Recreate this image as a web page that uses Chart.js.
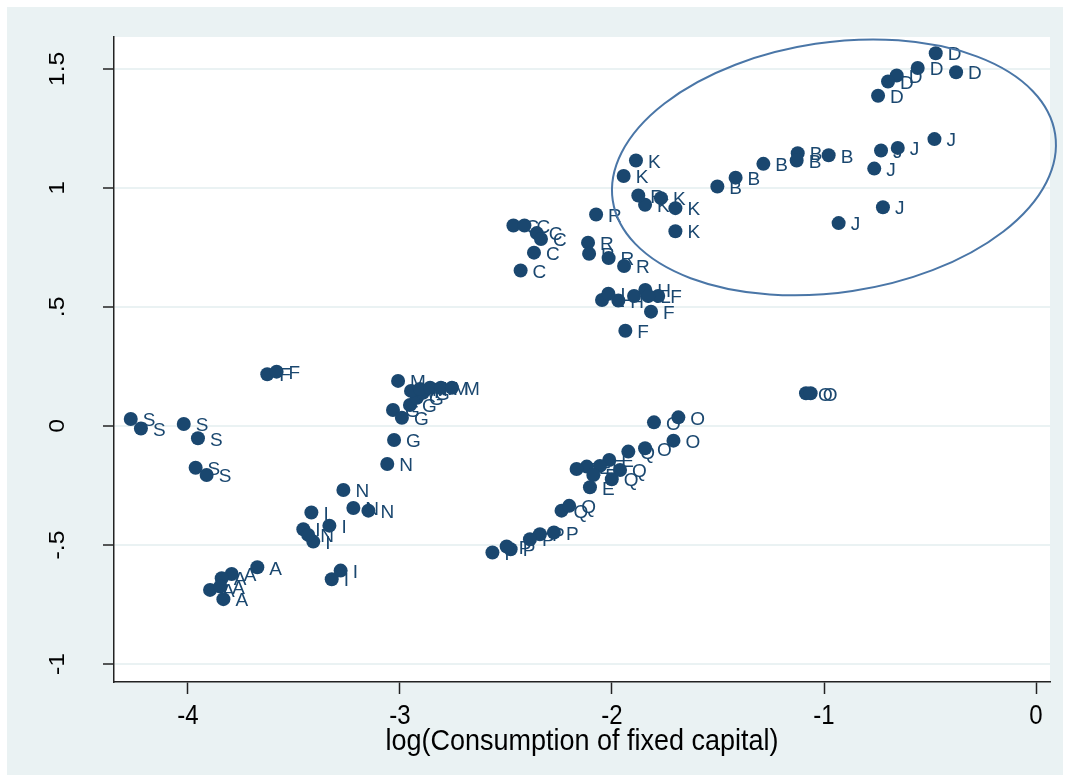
<!DOCTYPE html>
<html>
<head>
<meta charset="utf-8">
<script src="https://cdn.jsdelivr.net/npm/chart.js@4.4.0/dist/chart.umd.min.js"></script>
<style>
  html, body { margin: 0; padding: 0; background: #fff; }
  #wrap { width: 1070px; height: 782px; }
</style>
</head>
<body>
<div id="wrap"><canvas id="scatter" width="1070" height="782"></canvas></div>
<script>
const pointLabels = [
  'A','A','A','A','A','A',
  'B','B','B','B','B','B',
  'C','C','C','C','C','C',
  'D','D','D','D','D','D',
  'E','E','E','E','E','E',
  'F','F','F','F','F',
  'G','G','G','G','G','G',
  'H','H','H',
  'I','I','I','I','I','I',
  'J','J','J','J','J','J',
  'K','K','K','K','K','K',
  'L','L','L',
  'M','M','M','M','M','M',
  'N','N','N','N','N',
  'O','O','O','O','O','O',
  'P','P','P','P','P','P',
  'Q','Q','Q','Q','Q',
  'R','R','R','R','R','R',
  'S','S','S','S','S','S'
];
const xVals = [
  -3.673, -3.794, -3.841, -3.896, -3.833, -3.848,
  -0.978, -1.124, -1.129, -1.286, -1.417, -1.503,
  -2.465, -2.413, -2.355, -2.335, -2.368, -2.431,
  -0.473, -0.377, -0.558, -0.657, -0.698, -0.745,
  -2.013, -2.057, -2.119, -2.167, -2.088, -2.104,
  -3.626, -3.582, -1.782, -1.816, -1.937,
  -3.028, -3.033, -2.991, -2.953, -2.920, -2.892,
  -1.970, -1.896, -1.843,
  -3.418, -3.333, -3.409, -3.280, -3.322, -3.456,
  -0.479, -0.652, -0.731, -0.763, -0.722, -0.931,
  -1.887, -1.945, -1.844, -1.769, -1.701, -1.701,
  -2.047, -2.017, -1.829,
  -3.009, -2.948, -2.906, -2.858, -2.807, -2.755,
  -3.060, -3.267, -3.220, -3.149, -3.433,
  -1.802, -1.687, -1.710, -1.844, -1.085, -1.063,
  -2.274, -2.340, -2.387, -2.478, -2.497, -2.564,
  -1.923, -1.962, -2.001, -2.238, -2.202,
  -1.876, -2.075, -2.113, -2.108, -2.016, -1.943,
  -4.270, -4.222, -4.020, -3.953, -3.964, -3.912
];
const yVals = [
  -0.594, -0.622, -0.640, -0.689, -0.728, -0.675,
  1.137, 1.146, 1.115, 1.101, 1.043, 1.006,
  0.842, 0.842, 0.810, 0.785, 0.728, 0.653,
  1.566, 1.486, 1.504, 1.472, 1.447, 1.387,
  -0.143, -0.168, -0.171, -0.181, -0.206, -0.258,
  0.217, 0.228, 0.546, 0.480, 0.400,
  -0.059, 0.067, 0.034, 0.088, 0.118, 0.139,
  0.527, 0.546, 0.571,
  -0.364, -0.419, -0.486, -0.608, -0.644, -0.434,
  1.205, 1.168, 1.157, 1.081, 0.919, 0.852,
  1.115, 1.050, 0.929, 0.957, 0.915, 0.818,
  0.529, 0.555, 0.546,
  0.189, 0.147, 0.155, 0.160, 0.160, 0.160,
  -0.160, -0.269, -0.345, -0.356, -0.458,
  0.015, 0.036, -0.062, -0.094, 0.137, 0.137,
  -0.448, -0.455, -0.476, -0.518, -0.507, -0.532,
  -0.108, -0.185, -0.224, -0.356, -0.336,
  0.968, 0.888, 0.770, 0.723, 0.705, 0.672,
  0.029, -0.011, 0.008, -0.052, -0.176, -0.206
];
const xTicks = [-4, -3, -2, -1, 0];
const xTickLabels = ['-4', '-3', '-2', '-1', '0'];
const yTicks = [-1, -0.5, 0, 0.5, 1, 1.5];
const yTickLabels = ['-1', '-.5', '0', '.5', '1', '1.5'];
const xTitle = 'log(Consumption of fixed capital)';
// highlighted group: centre and half-axes in data units, tilt in degrees
const ellipseCentre = [-0.953, 1.086];
const ellipseRadii = [1.055, 0.525];
const ellipseTilt = 8.5;

const colors = {
  navy: '#1a476f',
  outline: '#4a76a7',
  region: '#eaf2f3',
  grid: '#eaf2f3',
  axis: '#222222',
  text: '#000000'
};
const FONT = '"Liberation Sans", Arial, sans-serif';

// draws text squeezed/stretched the way the reference renders its axis text
function stretchedText(ctx, text, x, y, sx, sy, angle) {
  ctx.save();
  ctx.translate(x, y);
  if (angle) ctx.rotate(angle);
  ctx.scale(sx, sy);
  ctx.fillText(text, 0, 0);
  ctx.restore();
}

const backgroundPlugin = {
  id: 'background',
  beforeDraw(chart) {
    const { ctx, chartArea } = chart;
    ctx.save();
    ctx.fillStyle = '#ffffff';
    ctx.fillRect(0, 0, chart.width, chart.height);
    ctx.fillStyle = colors.region;
    ctx.fillRect(7, 7, chart.width - 14, chart.height - 14);
    ctx.fillStyle = '#ffffff';
    ctx.fillRect(chartArea.left, chartArea.top,
      chartArea.right - chartArea.left, chartArea.bottom - chartArea.top);
    ctx.restore();
  }
};

// marker labels sit at 3 o'clock, under the markers
const markerLabelPlugin = {
  id: 'markerLabels',
  beforeDatasetsDraw(chart) {
    const { ctx, scales } = chart;
    ctx.save();
    ctx.fillStyle = colors.navy;
    ctx.font = '19px ' + FONT;
    ctx.textAlign = 'left';
    ctx.textBaseline = 'middle';
    pointLabels.forEach((lab, i) => {
      const px = scales.x.getPixelForValue(xVals[i]);
      const py = scales.y.getPixelForValue(yVals[i]);
      ctx.fillText(lab, px + 12, py + 2);
    });
    ctx.restore();
  }
};

const ellipsePlugin = {
  id: 'ellipse',
  afterDatasetsDraw(chart) {
    const { ctx, scales } = chart;
    const cx = scales.x.getPixelForValue(ellipseCentre[0]);
    const cy = scales.y.getPixelForValue(ellipseCentre[1]);
    const rx = Math.abs(scales.x.getPixelForValue(ellipseCentre[0] + ellipseRadii[0]) - cx);
    const ry = Math.abs(scales.y.getPixelForValue(ellipseCentre[1] + ellipseRadii[1]) - cy);
    ctx.save();
    ctx.strokeStyle = colors.outline;
    ctx.lineWidth = 2;
    ctx.beginPath();
    ctx.ellipse(cx, cy, rx, ry, -ellipseTilt * Math.PI / 180, 0, Math.PI * 2);
    ctx.stroke();
    ctx.restore();
  }
};

const axisTextPlugin = {
  id: 'axisText',
  afterDraw(chart) {
    const { ctx, scales, chartArea } = chart;
    ctx.save();
    ctx.fillStyle = colors.text;
    ctx.textAlign = 'center';
    ctx.textBaseline = 'middle';

    ctx.font = '24px ' + FONT;
    xTicks.forEach((v, i) => {
      stretchedText(ctx, xTickLabels[i], scales.x.getPixelForValue(v), 716, 1, 1.15, 0);
    });

    ctx.font = '27px ' + FONT;
    stretchedText(ctx, xTitle, (chartArea.left + chartArea.right) / 2, 742, 1, 1.1, 0);

    ctx.font = '22px ' + FONT;
    ctx.textBaseline = 'alphabetic';
    yTicks.forEach((v, i) => {
      stretchedText(ctx, yTickLabels[i], 64, scales.y.getPixelForValue(v), 1.13, 1, -Math.PI / 2);
    });
    ctx.restore();
  }
};

const points = xVals.map((x, i) => ({ x, y: yVals[i] }));

new Chart(document.getElementById('scatter'), {
  type: 'scatter',
  data: {
    datasets: [{
      data: points,
      pointRadius: 7,
      pointHoverRadius: 7,
      pointBackgroundColor: colors.navy,
      pointBorderColor: colors.navy,
      pointBorderWidth: 0
    }]
  },
  options: {
    responsive: false,
    animation: false,
    devicePixelRatio: 1,
    layout: { padding: { top: 37, right: 20, left: 0, bottom: 0 } },
    plugins: {
      legend: { display: false },
      tooltip: { enabled: false }
    },
    scales: {
      x: {
        type: 'linear',
        min: -4.349,
        max: 0.066,
        afterBuildTicks: s => { s.ticks = xTicks.map(v => ({ value: v })); },
        afterFit: s => { s.height = 100; },
        ticks: { display: false },
        grid: {
          drawOnChartArea: false,
          drawTicks: true,
          tickLength: 12,
          tickColor: colors.axis,
          tickWidth: 1.5
        },
        border: { color: colors.axis, width: 1.5 }
      },
      y: {
        type: 'linear',
        min: -1.076,
        max: 1.634,
        afterBuildTicks: s => { s.ticks = yTicks.map(v => ({ value: v })); },
        afterFit: s => { s.width = 114; },
        ticks: { display: false },
        grid: {
          color: colors.grid,
          lineWidth: 2,
          drawTicks: true,
          tickLength: 11,
          tickColor: colors.axis,
          tickWidth: 1.5
        },
        border: { color: colors.axis, width: 1.5 }
      }
    }
  },
  plugins: [backgroundPlugin, markerLabelPlugin, ellipsePlugin, axisTextPlugin]
});
</script>
</body>
</html>
